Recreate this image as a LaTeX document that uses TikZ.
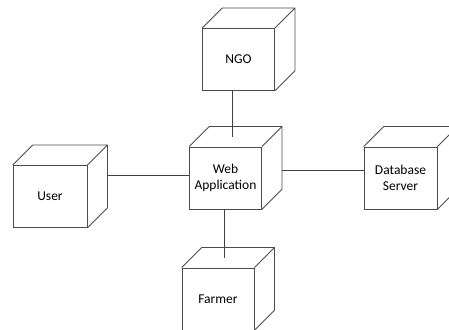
\documentclass[tikz,border=0pt]{standalone}
\usepackage{fontspec}
\setmainfont{Carlito}
\begin{document}
\begin{tikzpicture}[x=1pt,y=1pt,
    every node/.style={font=\fontsize{13.5}{16}\selectfont},
    device/.style={draw=black!70, line width=0.8pt, align=center,
      inner sep=0pt, minimum width=72pt, minimum height=62pt},
    link/.style={draw=black!75, line width=0.8pt}]
  \useasboundingbox (0,0) rectangle (449,329);
  % front faces
  \node[device] (ngo)    at (238.5,269.5) {NGO};
  \node[device] (web)    at (225.5,151)   {Web\\Application};
  \node[device, minimum width=73pt] (db) at (400.5,151) {Database\\Server};
  \node[device, minimum width=74pt] (user) at (50,132.5) {User};
  \node[device] (farmer) at (218,30)      {Farmer};
  % depth of every box
  \foreach \n in {ngo,web,db,user,farmer}
   {
    \draw[black!70, line width=0.8pt]
      (\n.north west) -- ++(20,20) -- ([shift={(20,20)}]\n.north east)
      -- ([shift={(20,20)}]\n.south east) -- (\n.south east)
      (\n.north east) -- ++(20,20);
   }
  % links
  \coordinate (webtop)  at ([xshift=6.5pt,yshift=10pt]web.north);
  \coordinate (farmtop) at ([xshift=6pt,yshift=10pt]farmer.north);
  \coordinate (userrim) at ([xshift=20pt,yshift=21.5pt]user.east);
  \draw[link] (ngo.south -| webtop) -- (webtop);
  \draw[link] (web.south -| farmtop) -- (farmtop);
  \draw[link] (userrim) -- (userrim -| web.west);
  \draw[link] ([xshift=20pt,yshift=8pt]web.east) -- ([yshift=8pt]db.west);
\end{tikzpicture}
\end{document}
